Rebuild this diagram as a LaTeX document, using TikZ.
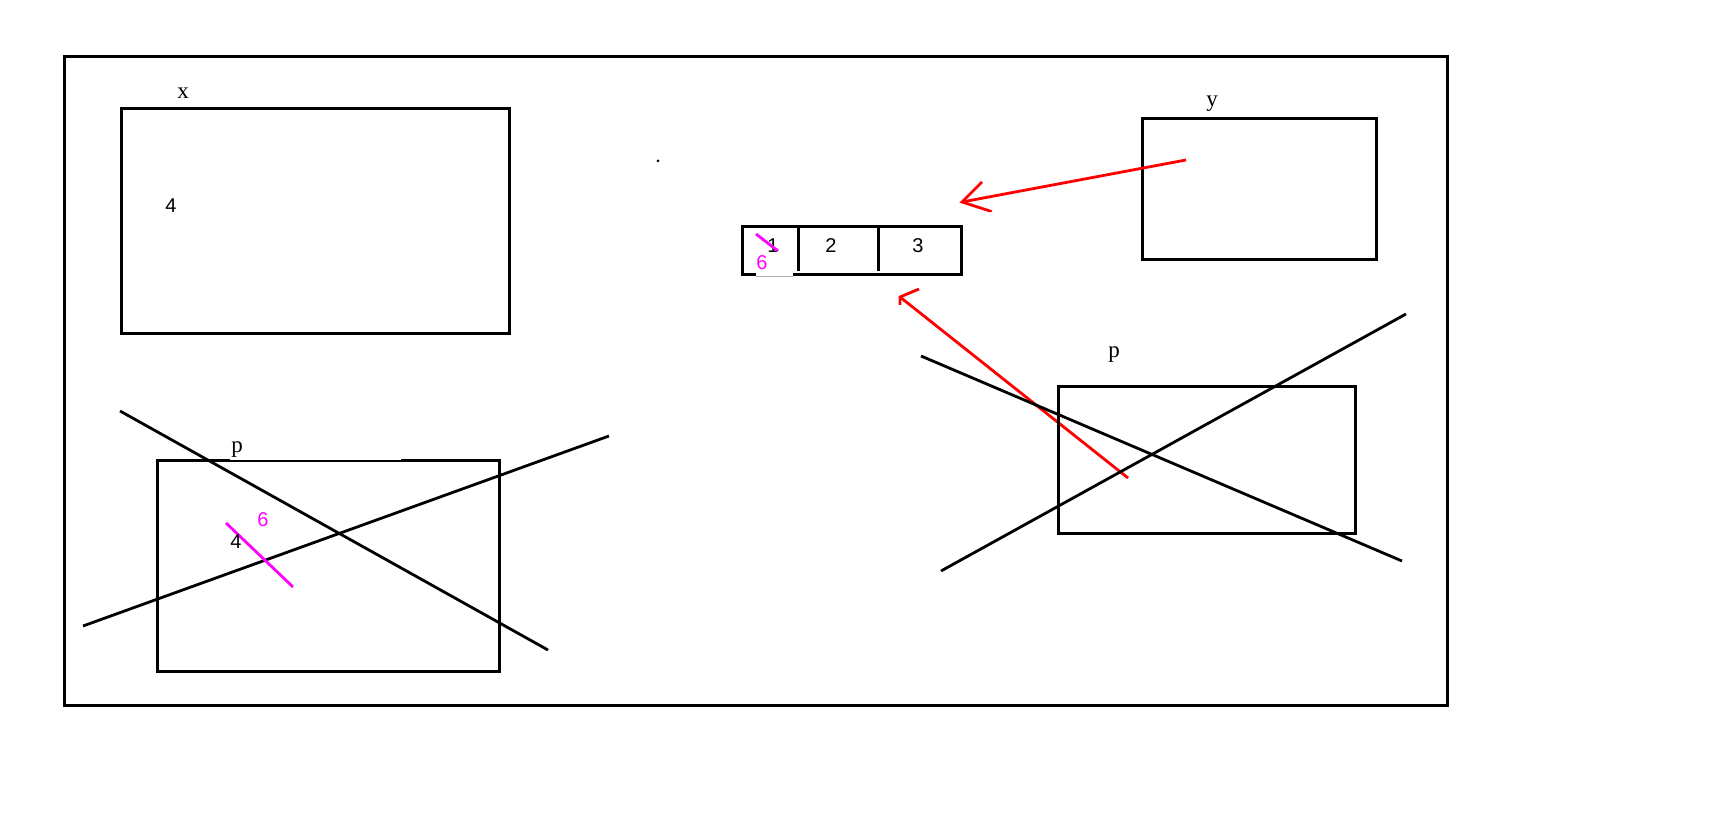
\documentclass[tikz,border=0pt]{standalone}
\usepackage{fontspec}
\setmainfont{Liberation Serif}
\newfontfamily\digitfont{Liberation Sans}
\definecolor{mag}{RGB}{255,0,255}
\definecolor{rd}{RGB}{255,0,0}
\begin{document}
\begin{tikzpicture}[x=0.5pt,y=-0.5pt,
  box/.style={draw=black,line width=1.5pt},
  xline/.style={draw=black,line width=1.4pt},
  redline/.style={draw=rd,line width=1.4pt},
  magline/.style={draw=mag,line width=1.4pt},
  lbl/.style={font=\fontsize{11.5}{13}\selectfont,inner sep=0pt},
  num/.style={font=\digitfont\fontsize{10}{11}\selectfont,inner sep=0pt},
  magnum/.style={num,text=mag}]
\useasboundingbox (0,0) rectangle (1720,822);
\fill[white] (0,0) rectangle (1720,822);
% outer frame
\draw[box] (64,57) rectangle (1447,706);
% box x
\draw[box] (121,109) rectangle (509,334);
\node[lbl] (lx) at (183,93) {x};
\node[num] (n4a) at (171,206) {4};
% dot
\fill (658,161) circle (1.5);
% array
\draw[box] (742,227) rectangle (961,275);
\draw[box] (798,227) -- (798,271);
\draw[box] (878,227) -- (878,271);
\draw[white,line width=1.7pt] (756,275) -- (793,275);
\draw[gray!60,line width=0.4pt] (756,276) -- (793,276);
\node[num] (a1) at (773,246) {1};
\node[num] (a2) at (831,246) {2};
\node[num] (a3) at (918,246) {3};
\node[magnum] (a6) at (762,263) {6};
\draw[magline] (756,234) -- (778,251);
% box y
\draw[box] (1142,119) rectangle (1376,260);
\node[lbl] (ly) at (1212,104) {y};
% red arrows
\coordinate (r1s) at (1186,160);
\coordinate (r1t) at (962,202);
\draw[redline] (r1s) -- (r1t);
\draw[redline] (982,182) -- (r1t) -- (990,211);
\fill[rd] (991,211) circle (1.3);
\coordinate (r2s) at (1128,478);
\coordinate (r2t) at (900,297);
\draw[redline] (r2s) -- (r2t);
\draw[redline] (919,289) -- (r2t) -- (900,305);
% right box p
\draw[box] (1058,387) rectangle (1355,534);
\node[lbl] (lp2) at (1114,355) {p};
\draw[xline] (921,356) -- (1402,561);
\draw[xline] (941,571) -- (1406,314);
% lower-left box p
\draw[box] (230,461) -- (157,461) -- (157,672) -- (499,672) -- (499,461) -- (401,461);
\draw[black,line width=0.6pt] (230,461) -- (401,461);
\node[lbl] (lp1) at (237,450) {p};
\draw[xline] (120,411) -- (548,650);
\draw[xline] (83,626) -- (609,436);
\draw[magline] (226,523) -- (293,587);
\node[magnum] (b6) at (263,520) {6};
\node[num] (b4) at (236,542) {4};
\end{tikzpicture}
\end{document}
